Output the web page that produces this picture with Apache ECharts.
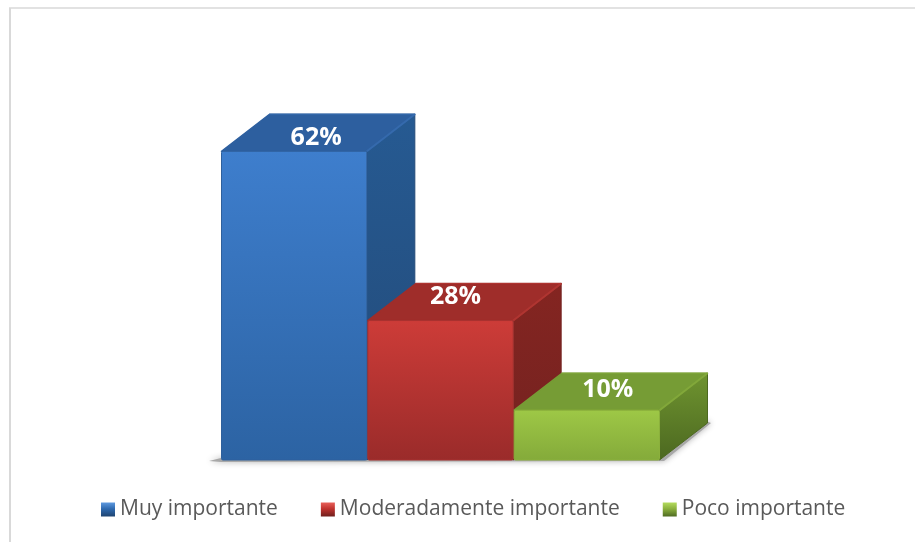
<!DOCTYPE html>
<html>
<head>
<meta charset="utf-8">
<style>html,body{margin:0;padding:0;background:#fff}#chart{width:915px;height:542px}</style>
<script src="https://cdn.jsdelivr.net/npm/echarts@6/dist/echarts.min.js"></script>
</head>
<body>
<div id="chart"></div>
<script>
const categories = ['Muy importante', 'Moderadamente importante', 'Poco importante'];
const shares = [62, 28, 10];

// Per-bar palette: front gradient, side gradient, top face, ridge highlight, front outline
const fronts = [['#3e7ecd', '#2c63a3'], ['#cd3c38', '#9a2b2a'], ['#9ec846', '#84aa3a']];
const sides = [['#265a92', '#234a78'], ['#842521', '#742220'], ['#6f9430', '#4c6820']];
const tops = ['#2d5f9f', '#9f2d2a', '#769c35'];
const ridges = ['#356aad', '#b03531', '#82a83a'];
const edges = ['#2f609c', '#a83230', '#8bb03c'];
// Legend swatches: light top, body, dark foot
const swatches = [['#5f9ae0', '#2f6ab0', '#1f4470'], ['#e8605a', '#c0332f', '#6f1f1d'], ['#b4dc5e', '#8cb13e', '#4f6b22']];

// Oblique extrusion of each column, in pixels
const DEPTH_X = 48;
const DEPTH_Y = 37;
// Nudges of the value labels away from the centre of the top face
const labelShift = [[-2, 5], [-9, -5], [-3, -2]];

function grad(stops) {
  return new echarts.graphic.LinearGradient(0, 0, 0, 1, [
    { offset: 0, color: stops[0] },
    { offset: 1, color: stops[1] }
  ]);
}

function drawColumn(params, api) {
  const i = api.value(0);
  const base = api.coord([i, 0]);
  const top = api.coord([i, api.value(1)]);
  const w = api.size([1, 0])[0] - 1;
  const x0 = base[0] - w / 2, x1 = base[0] + w / 2;
  const yB = base[1], yT = top[1];
  const pts = (a) => ({ points: a });
  return {
    type: 'group',
    children: [
      { type: 'polygon', shape: pts([[x1, yT], [x1 + DEPTH_X, yT - DEPTH_Y], [x1 + DEPTH_X, yB - DEPTH_Y], [x1, yB]]),
        style: { fill: grad(sides[i]), stroke: sides[i][1], lineWidth: 1, lineJoin: 'round' } },
      { type: 'polygon', shape: pts([[x0, yT], [x0 + DEPTH_X, yT - DEPTH_Y], [x1 + DEPTH_X, yT - DEPTH_Y], [x1, yT]]),
        style: { fill: tops[i], stroke: tops[i], lineWidth: 1.5, lineJoin: 'round' } },
      { type: 'polyline', shape: pts([[x1, yT], [x1 + DEPTH_X, yT - DEPTH_Y]]),
        style: { fill: null, stroke: ridges[i], lineWidth: 2 } },
      { type: 'polyline', shape: pts([[x0 + DEPTH_X, yT - DEPTH_Y], [x1 + DEPTH_X, yT - DEPTH_Y]]),
        style: { fill: null, stroke: ridges[i], lineWidth: 1, lineCap: 'round' } },
      { type: 'rect', shape: { x: x0, y: yT, width: w, height: yB - yT, r: 1.5 },
        style: { fill: grad(fronts[i]), stroke: edges[i], lineWidth: 1 } },
      { type: 'text', z2: 10,
        style: {
          x: (x0 + x1) / 2 + DEPTH_X / 2 + labelShift[i][0],
          y: yT - DEPTH_Y / 2 + labelShift[i][1],
          text: api.value(1) + '%',
          fill: '#ffffff',
          font: 'bold 25px "Open Sans", sans-serif',
          align: 'center',
          verticalAlign: 'middle'
        } }
    ]
  };
}

// Soft floor shadow cast behind the whole row of columns
function drawShadow(params, api) {
  const a = api.coord([0, 0]);
  const b = api.coord([categories.length - 1, 0]);
  const half = api.size([1, 0])[0] / 2;
  return {
    type: 'polygon',
    shape: { points: [
      [a[0] - half - 12, a[1] + 1],
      [a[0] - half, a[1] - 2],
      [b[0] + half + DEPTH_X - 2, b[1] - DEPTH_Y - 2],
      [b[0] + half + DEPTH_X + 3, b[1] - DEPTH_Y],
      [b[0] + half + 4, b[1] + 1],
      [a[0] - half, a[1] + 2]
    ] },
    style: { fill: '#a8a8a8', shadowBlur: 6, shadowColor: '#b0b0b0' }
  };
}

const columnSeries = categories.map((name, i) => ({
  type: 'custom',
  name,
  coordinateSystem: 'cartesian2d',
  renderItem: drawColumn,
  encode: { x: 0, y: 1 },
  itemStyle: { color: new echarts.graphic.LinearGradient(0, 0, 0, 1, [
    { offset: 0, color: swatches[i][0] },
    { offset: 0.45, color: swatches[i][1] },
    { offset: 1, color: swatches[i][2] }
  ]) },
  data: [[i, shares[i]]],
  z: 2 + i
}));

const chart = echarts.init(document.getElementById('chart'), null, { renderer: 'canvas' });
chart.setOption({
  animation: false,
  backgroundColor: '#ffffff',
  grid: { left: 221, top: 0, width: 439, height: 460 },
  xAxis: { type: 'category', data: categories.map((_, i) => i), show: false },
  yAxis: { type: 'value', min: 0, max: 460 / 4.98, show: false },
  legend: {
    data: categories,
    left: 96,
    top: 494,
    itemWidth: 14,
    itemHeight: 14,
    itemGap: 43,
    icon: 'rect',
    selectedMode: false,
    textStyle: { color: '#595959', fontSize: 21, fontFamily: '"Open Sans", sans-serif' }
  },
  graphic: [
    { type: 'line', shape: { x1: 9, y1: 8, x2: 915, y2: 8 }, style: { stroke: '#d9d9d9', lineWidth: 1.5 } },
    { type: 'line', shape: { x1: 10, y1: 8, x2: 10, y2: 542 }, style: { stroke: '#d9d9d9', lineWidth: 2 } }
  ],
  series: [
    {
      type: 'custom',
      name: 'sombra',
      coordinateSystem: 'cartesian2d',
      renderItem: drawShadow,
      silent: true,
      data: [[0, 0]],
      z: 1
    },
    ...columnSeries
  ]
});
</script>
</body>
</html>
